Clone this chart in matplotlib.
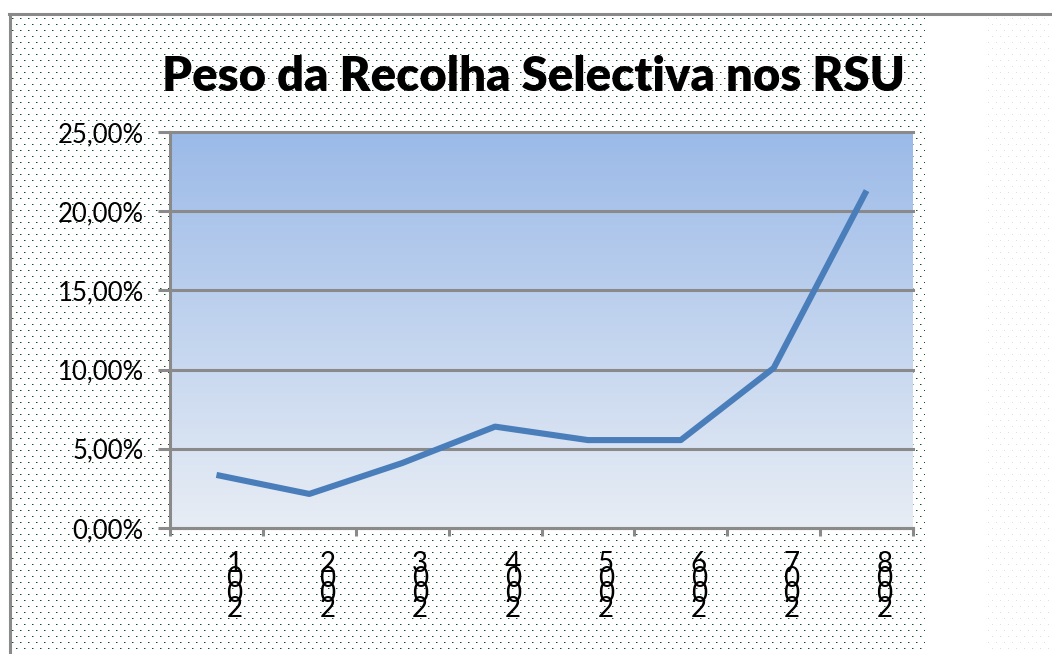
import matplotlib
matplotlib.use('Agg')
import matplotlib.pyplot as plt
import numpy as np
from matplotlib import transforms
from matplotlib.lines import Line2D

# Dados: peso da recolha selectiva nos RSU (%)
anos = ['2001', '2002', '2003', '2004', '2005', '2006', '2007', '2008']
peso = [3.35, 2.15, 4.1, 6.4, 5.55, 5.55, 10.1, 21.3]
y_ticks = [0, 5, 10, 15, 20, 25]

W, H = 1052, 654
plt.rcParams['font.family'] = ['Lato', 'DejaVu Sans']

fig = plt.figure(figsize=(W / 100, H / 100), dpi=100)
fig.patch.set_facecolor('white')

# textura pontilhada de fundo
bg = np.ones((H, W, 3))
yy, xx = np.mgrid[0:H, 0:W]
dots = ((yy % 6) == 0) & (((xx + (yy // 6 % 2) * 4) % 8) == 0)
halo = np.roll(dots, 1, axis=1)
zona = (xx >= 10) & (xx < 925) & (yy >= 14)
bg[halo & zona] = [0.55, 0.68, 0.58]
bg[dots & zona] = [0.08, 0.3, 0.15]
bg[dots & (xx >= 985) & (yy >= 16)] = [0.84, 0.89, 0.86]
fig.figimage(bg, xo=0, yo=0, origin='upper', zorder=-10)

# moldura
cinza = '#8a8a8a'
fig.add_artist(Line2D([9 / W, 1], [1 - 14 / H] * 2, color=cinza, lw=2.2,
                      transform=fig.transFigure))
fig.add_artist(Line2D([10 / W] * 2, [0, 1 - 14 / H], color=cinza, lw=2.2,
                      transform=fig.transFigure))

ax = fig.add_axes([170 / W, 1 - 528 / H, (913 - 170) / W, (528 - 132) / H])
ax.patch.set_visible(False)

# gradiente da área do gráfico
topo = np.array([0.61, 0.73, 0.91])
base = np.array([0.91, 0.93, 0.96])
t = np.linspace(0, 1, 256)[:, None, None]
grad = topo * (1 - t) + base * t
ax.imshow(grad, extent=[0, 1, 0, 1], transform=ax.transAxes, aspect='auto',
          zorder=0)

x = np.arange(len(anos))
ax.plot(x, peso, color='#4a7ebb', lw=4.4, solid_capstyle='butt', zorder=3)

ax.set_xlim(-0.5, len(anos) - 0.5)
ax.set_ylim(0, 25)
ax.set_yticks(y_ticks)
ax.set_yticklabels([('%.2f%%' % v).replace('.', ',') for v in y_ticks],
                   fontsize=18.5)
ax.tick_params(axis='y', direction='out', length=9, width=2.2, color=cinza, pad=10)
ax.yaxis.grid(True, color=cinza, lw=2.2, zorder=1)
for gl in ax.yaxis.get_gridlines():
    gl.set_clip_on(False)

ax.set_xticks(np.arange(-0.5, len(anos)))
ax.set_xticklabels([])
ax.tick_params(axis='x', direction='out', length=6, width=2.2, color=cinza)

for s in ['top', 'right']:
    ax.spines[s].set_visible(False)
for s in ['left', 'bottom']:
    ax.spines[s].set_color(cinza)
    ax.spines[s].set_linewidth(2.2)

# rótulos dos anos, com os algarismos empilhados
base_tr = transforms.blended_transform_factory(ax.transData, ax.transAxes)
for i, ano in enumerate(anos):
    for k, ch in enumerate(ano[::-1]):
        tr = transforms.offset_copy(base_tr, fig=fig, x=18, y=-(23 + 15 * k),
                                    units='dots')
        ax.text(i, 0, ch, transform=tr, ha='center', va='top', fontsize=20,
                family=['Liberation Sans Narrow', 'Lato'])

fig.text(534 / W, 1 - 77 / H, 'Peso da Recolha Selectiva nos RSU',
         ha='center', va='center', fontsize=34, fontweight='heavy')

fig.savefig('out.png', dpi=100)
